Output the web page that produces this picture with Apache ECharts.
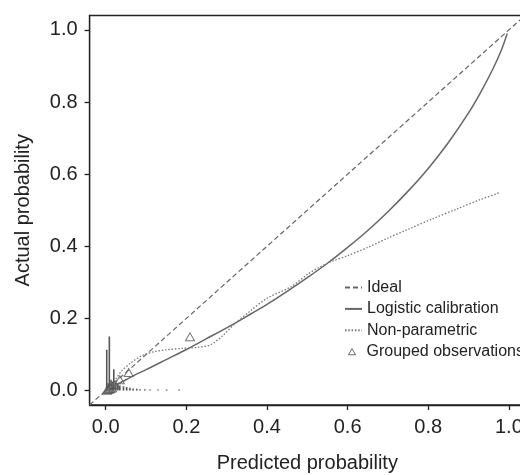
<!DOCTYPE html>
<html>
<head>
<meta charset="utf-8">
<script src="https://cdn.jsdelivr.net/npm/echarts@6/dist/echarts.min.js"></script>
<style>
html,body{margin:0;padding:0;background:#fff;}
#chart{width:520px;height:475px;}
</style>
</head>
<body>
<div id="chart"></div>
<script>
// ---- data ----
var tickValues = [0.0, 0.2, 0.4, 0.6, 0.8, 1.0];

var idealX = [-0.04, 1.04];
var idealY = [-0.04, 1.04];

var logisticX = [0.003, 0.01, 0.02, 0.035, 0.05, 0.075, 0.1, 0.15, 0.2, 0.25, 0.3, 0.35, 0.4, 0.45, 0.5, 0.55, 0.6, 0.65, 0.7, 0.75, 0.8, 0.85, 0.9, 0.93, 0.96, 0.98, 0.996];
var logisticY = [0.002, 0.007, 0.013, 0.021, 0.030, 0.045, 0.058, 0.086, 0.114, 0.144, 0.174, 0.206, 0.239, 0.275, 0.313, 0.353, 0.397, 0.444, 0.496, 0.553, 0.616, 0.688, 0.770, 0.827, 0.891, 0.940, 0.990];

var nonparX = [0.005, 0.015, 0.025, 0.04, 0.06, 0.09, 0.12, 0.15, 0.19, 0.23, 0.26, 0.29, 0.32, 0.36, 0.4, 0.46, 0.5, 0.53, 0.56, 0.6, 0.65, 0.7, 0.75, 0.81, 0.87, 0.93, 0.975];
var nonparY = [0.003, 0.015, 0.032, 0.055, 0.075, 0.097, 0.108, 0.113, 0.117, 0.120, 0.127, 0.152, 0.185, 0.222, 0.256, 0.288, 0.322, 0.342, 0.358, 0.374, 0.397, 0.423, 0.447, 0.476, 0.503, 0.530, 0.548];

var groupX = [0.003, 0.006, 0.009, 0.012, 0.016, 0.023, 0.035, 0.057, 0.209];
var groupY = [0.001, 0.003, 0.004, 0.006, 0.008, 0.016, 0.030, 0.050, 0.149];

var spikeX = [0.0025, 0.006, 0.009, 0.013, 0.016, 0.02, 0.025, 0.03, 0.035, 0.044, 0.052, 0.06, 0.068, 0.077, 0.085, 0.097, 0.11, 0.13, 0.151, 0.182];
var spikeH = [0.113, 0.02, 0.15, 0.03, 0.025, 0.059, 0.02, 0.018, 0.014, 0.012, 0.01, 0.008, 0.006, 0.005, 0.004, 0.004, 0.003, 0.003, 0.003, 0.003];

var lineNames = ['Ideal', 'Logistic calibration', 'Non-parametric'];
var pointName = 'Grouped observations';

// ---- build ----
function zip(a, b) { return a.map(function (v, i) { return [v, b[i]]; }); }

var FONT = 'Liberation Sans';
var chart = echarts.init(document.getElementById('chart'), null, {renderer: 'canvas'});

var axisCommon = {
  type: 'value',
  min: -0.04,
  max: 1.04,
  splitLine: {show: false},
  axisLine: {show: true, onZero: false, lineStyle: {color: '#222', width: 1.3}},
  axisTick: {show: true, length: 5, customValues: tickValues, lineStyle: {color: '#222', width: 1.3}},
  axisLabel: {customValues: tickValues, color: '#222', fontFamily: FONT, fontSize: 20,
    formatter: function (v) { return v.toFixed(1); }},
  nameLocation: 'middle',
  nameTextStyle: {color: '#222', fontFamily: FONT, fontSize: 20}
};

var legendText = {color: '#222', fontFamily: FONT, fontSize: 16, lineHeight: 16};

var option = {
  backgroundColor: '#fff',
  animation: false,
  grid: {left: 89.6, top: 15.5, right: -5, bottom: 70, containLabel: false, outerBoundsMode: 'none',
    show: true, borderColor: '#222', borderWidth: 1.3, backgroundColor: 'transparent'},
  xAxis: Object.assign({}, axisCommon, {name: 'Predicted probability', nameGap: 48,
    axisLabel: Object.assign({}, axisCommon.axisLabel, {margin: 12})}),
  yAxis: Object.assign({}, axisCommon, {name: 'Actual probability', nameGap: 56,
    axisLabel: Object.assign({}, axisCommon.axisLabel, {margin: 12})}),
  legend: [
    {
      orient: 'vertical',
      left: 339,
      top: 274.5,
      itemWidth: 17,
      itemHeight: 10,
      itemGap: 5.4,
      textStyle: legendText,
      data: lineNames.map(function (n) { return {name: n, itemStyle: {opacity: 0}}; })
    },
    {
      orient: 'vertical',
      left: 343,
      top: 338.7,
      itemWidth: 7,
      itemHeight: 6,
      textStyle: Object.assign({}, legendText, {padding: [0, 0, 0, 6]}),
      data: [{name: pointName, itemStyle: {color: 'rgba(255,255,255,0)', borderColor: '#444', borderWidth: 1}}]
    }
  ],
  series: [
    {
      name: 'Ideal', type: 'line', data: zip(idealX, idealY), showSymbol: false, symbol: 'none',
      lineStyle: {color: '#666', width: 1.2, type: [5, 3]}, itemStyle: {color: '#666'}
    },
    {
      name: 'Logistic calibration', type: 'line', data: zip(logisticX, logisticY), showSymbol: false, symbol: 'none', smooth: 0.3,
      lineStyle: {color: '#666', width: 1.5}, itemStyle: {color: '#666'}
    },
    {
      name: 'Non-parametric', type: 'line', data: zip(nonparX, nonparY), showSymbol: false, symbol: 'none', smooth: 0.3,
      lineStyle: {color: '#777', width: 1.3, type: [1.5, 1.8]}, itemStyle: {color: '#777'}
    },
    {
      name: pointName, type: 'scatter', data: zip(groupX, groupY), symbol: 'triangle', symbolSize: [9, 8],
      itemStyle: {color: 'rgba(255,255,255,0)', borderColor: '#555', borderWidth: 1}
    },
    {
      name: 'spikes', type: 'custom', data: zip(spikeX, spikeH), silent: true,
      renderItem: function (params, api) {
        var p0 = api.coord([api.value(0), 0]);
        var p1 = api.coord([api.value(0), api.value(1)]);
        return {type: 'line', shape: {x1: p0[0], y1: p0[1], x2: p1[0], y2: p1[1]},
          style: {stroke: '#555', lineWidth: 1.6}};
      }
    }
  ]
};
chart.setOption(option);
</script>
</body>
</html>
